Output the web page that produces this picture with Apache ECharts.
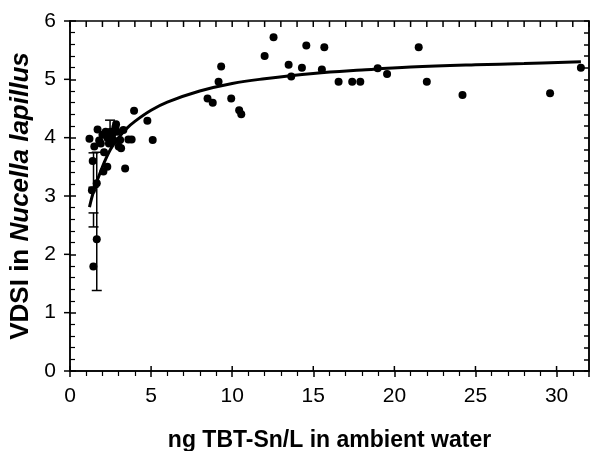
<!DOCTYPE html>
<html><head><meta charset="utf-8">
<script src="https://cdn.jsdelivr.net/npm/echarts@6/dist/echarts.min.js"></script>
<style>html,body{margin:0;padding:0;background:#fff}#c{width:591px;height:451px}</style>
</head><body><div id="c"></div>
<script>
// Observed points: TBT-Sn (ng/L) vs VDSI
const pointsX = [1.2,1.35,1.4,1.44,1.5,1.65,1.65,1.7,1.8,1.9,2.0,2.06,2.1,2.2,2.3,2.3,2.4,2.5,2.6,2.7,2.8,2.84,2.9,3.0,3.09,3.15,3.29,3.4,3.6,3.8,3.95,4.77,5.1,
  8.48,8.8,9.16,9.32,9.94,10.43,10.56,12.0,12.55,13.48,13.64,14.3,14.57,15.53,15.68,16.56,17.4,17.9,18.97,19.55,21.5,22.0,24.2,29.6,31.5];
const pointsY = [3.98,3.1,3.6,1.79,3.85,3.22,2.26,4.14,3.95,3.9,4.05,3.42,3.75,4.1,4.0,3.5,3.9,4.1,4.05,3.95,4.18,4.23,4.1,3.85,3.96,3.82,4.13,3.47,3.97,3.97,4.46,4.29,3.96,
  4.67,4.6,4.96,5.22,4.67,4.47,4.4,5.4,5.72,5.25,5.05,5.2,5.58,5.17,5.55,4.96,4.96,4.96,5.19,5.09,5.55,4.96,4.73,4.76,5.2];
// Error bars: x, low, high
const errX = [1.65,1.45,1.45,2.47];
const errLow = [1.38,2.47,3.15,3.95];
const errHigh = [3.75,2.71,3.74,4.3];
// Fitted curve
const curveX = [1.2,1.5,2,2.5,3,3.5,4,5,6,8,10,12,15,18,21,25,28,31.5];
const curveY = [2.81,3.12,3.5,3.8,4.0,4.16,4.28,4.47,4.61,4.8,4.93,5.01,5.1,5.16,5.21,5.25,5.27,5.3];
const xTicks = [0,5,10,15,20,25,30];
const yTicks = [0,1,2,3,4,5,6];
const topTicks = Array.from({length:33},(_,i)=>i);

const chart = echarts.init(document.getElementById('c'));
const F = 'Liberation Sans, Arial, sans-serif';
const lineS = {color:'#000', width:1.5};
const tickSt = {stroke:'#000',lineWidth:1.5};
chart.setOption({
  animation:false,
  grid:{left:70,right:2,top:21,bottom:80,show:true,borderColor:'#000',borderWidth:1.5,backgroundColor:'transparent',containLabel:false,outerBoundsMode:'none'},
  xAxis:[
    {type:'value',min:0,max:32,interval:5,position:'bottom',
     axisLine:{show:true,onZero:false,lineStyle:lineS},
     axisTick:{show:true,inside:false,length:6,lineStyle:lineS},
     minorTick:{show:true,splitNumber:5,length:5,lineStyle:{color:'#000',width:1.2}},
     splitLine:{show:false},
     axisLabel:{fontFamily:F,fontSize:21,color:'#000',margin:15,formatter:v=>xTicks.includes(v)?String(v):''},
     name:'ng TBT-Sn/L in ambient water',nameLocation:'middle',nameGap:58,
     nameTextStyle:{fontFamily:F,fontSize:23,fontWeight:'bold',color:'#000'}}
  ],
  yAxis:[
    {type:'value',min:0,max:6,interval:1,position:'left',
     axisLine:{show:true,onZero:false,lineStyle:lineS},
     axisTick:{show:true,inside:true,length:6,lineStyle:lineS},
     minorTick:{show:true,splitNumber:5,length:5,lineStyle:{color:'#000',width:1.2}},
     splitLine:{show:false},
     axisLabel:{fontFamily:F,fontSize:21,color:'#000',margin:14,formatter:v=>yTicks.includes(v)?String(v):''},
     name:'{b|VDSI in }{i|Nucella lapillus}',nameLocation:'middle',nameGap:34,nameRotate:90,
     nameTextStyle:{rich:{b:{fontFamily:F,fontSize:26,fontWeight:'bold',color:'#000'},
                          i:{fontFamily:F,fontSize:26,fontWeight:'bold',fontStyle:'italic',color:'#000'}}}},
    {type:'value',min:0,max:6,interval:0.2,position:'right',
     axisLine:{show:true,onZero:false,lineStyle:lineS},
     axisTick:{show:true,inside:true,length:5,lineStyle:lineS},
     splitLine:{show:false},axisLabel:{show:false}}
  ],
  series:[
    {type:'line',xAxisIndex:0,yAxisIndex:1,data:[],silent:true},
    // top frame ticks (inside)
    {type:'custom',xAxisIndex:0,yAxisIndex:0,silent:true,z:2,
     data:topTicks.map(v=>[v,6]),
     renderItem:function(params,api){
       const p=api.coord([api.value(0),api.value(1)]);
       return {type:'line',shape:{x1:p[0],y1:p[1],x2:p[0],y2:p[1]+6},style:tickSt};
     }},
    // bottom major ticks, inner half
    {type:'custom',xAxisIndex:0,yAxisIndex:0,silent:true,z:2,
     data:xTicks.map(v=>[v,0]),
     renderItem:function(params,api){
       const p=api.coord([api.value(0),api.value(1)]);
       return {type:'line',shape:{x1:p[0],y1:p[1],x2:p[0],y2:p[1]-5},style:tickSt};
     }},
    // left major ticks, outer half
    {type:'custom',xAxisIndex:0,yAxisIndex:0,silent:true,z:2,
     data:yTicks.map(v=>[0,v]),
     renderItem:function(params,api){
       const p=api.coord([api.value(0),api.value(1)]);
       return {type:'line',shape:{x1:p[0],y1:p[1],x2:p[0]-6,y2:p[1]},style:tickSt};
     }},
    {type:'custom',xAxisIndex:0,yAxisIndex:0,z:3,
     data:errX.map((x,i)=>[x,errLow[i],errHigh[i]]),
     renderItem:function(params,api){
       const lo=api.coord([api.value(0),api.value(1)]);
       const hi=api.coord([api.value(0),api.value(2)]);
       const w=5;
       const st={stroke:'#000',lineWidth:1.5};
       return {type:'group',children:[
         {type:'line',shape:{x1:lo[0],y1:lo[1],x2:hi[0],y2:hi[1]},style:st},
         {type:'line',shape:{x1:lo[0]-w,y1:lo[1],x2:lo[0]+w,y2:lo[1]},style:st},
         {type:'line',shape:{x1:hi[0]-w,y1:hi[1],x2:hi[0]+w,y2:hi[1]},style:st}
       ]};
     }},
    {type:'line',xAxisIndex:0,yAxisIndex:0,z:4,smooth:0.4,showSymbol:false,
     data:curveX.map((x,i)=>[x,curveY[i]]),lineStyle:{color:'#000',width:3}},
    {type:'scatter',xAxisIndex:0,yAxisIndex:0,z:5,symbol:'circle',symbolSize:8,
     itemStyle:{color:'#000',opacity:1},data:pointsX.map((x,i)=>[x,pointsY[i]])}
  ]
});
</script></body></html>
